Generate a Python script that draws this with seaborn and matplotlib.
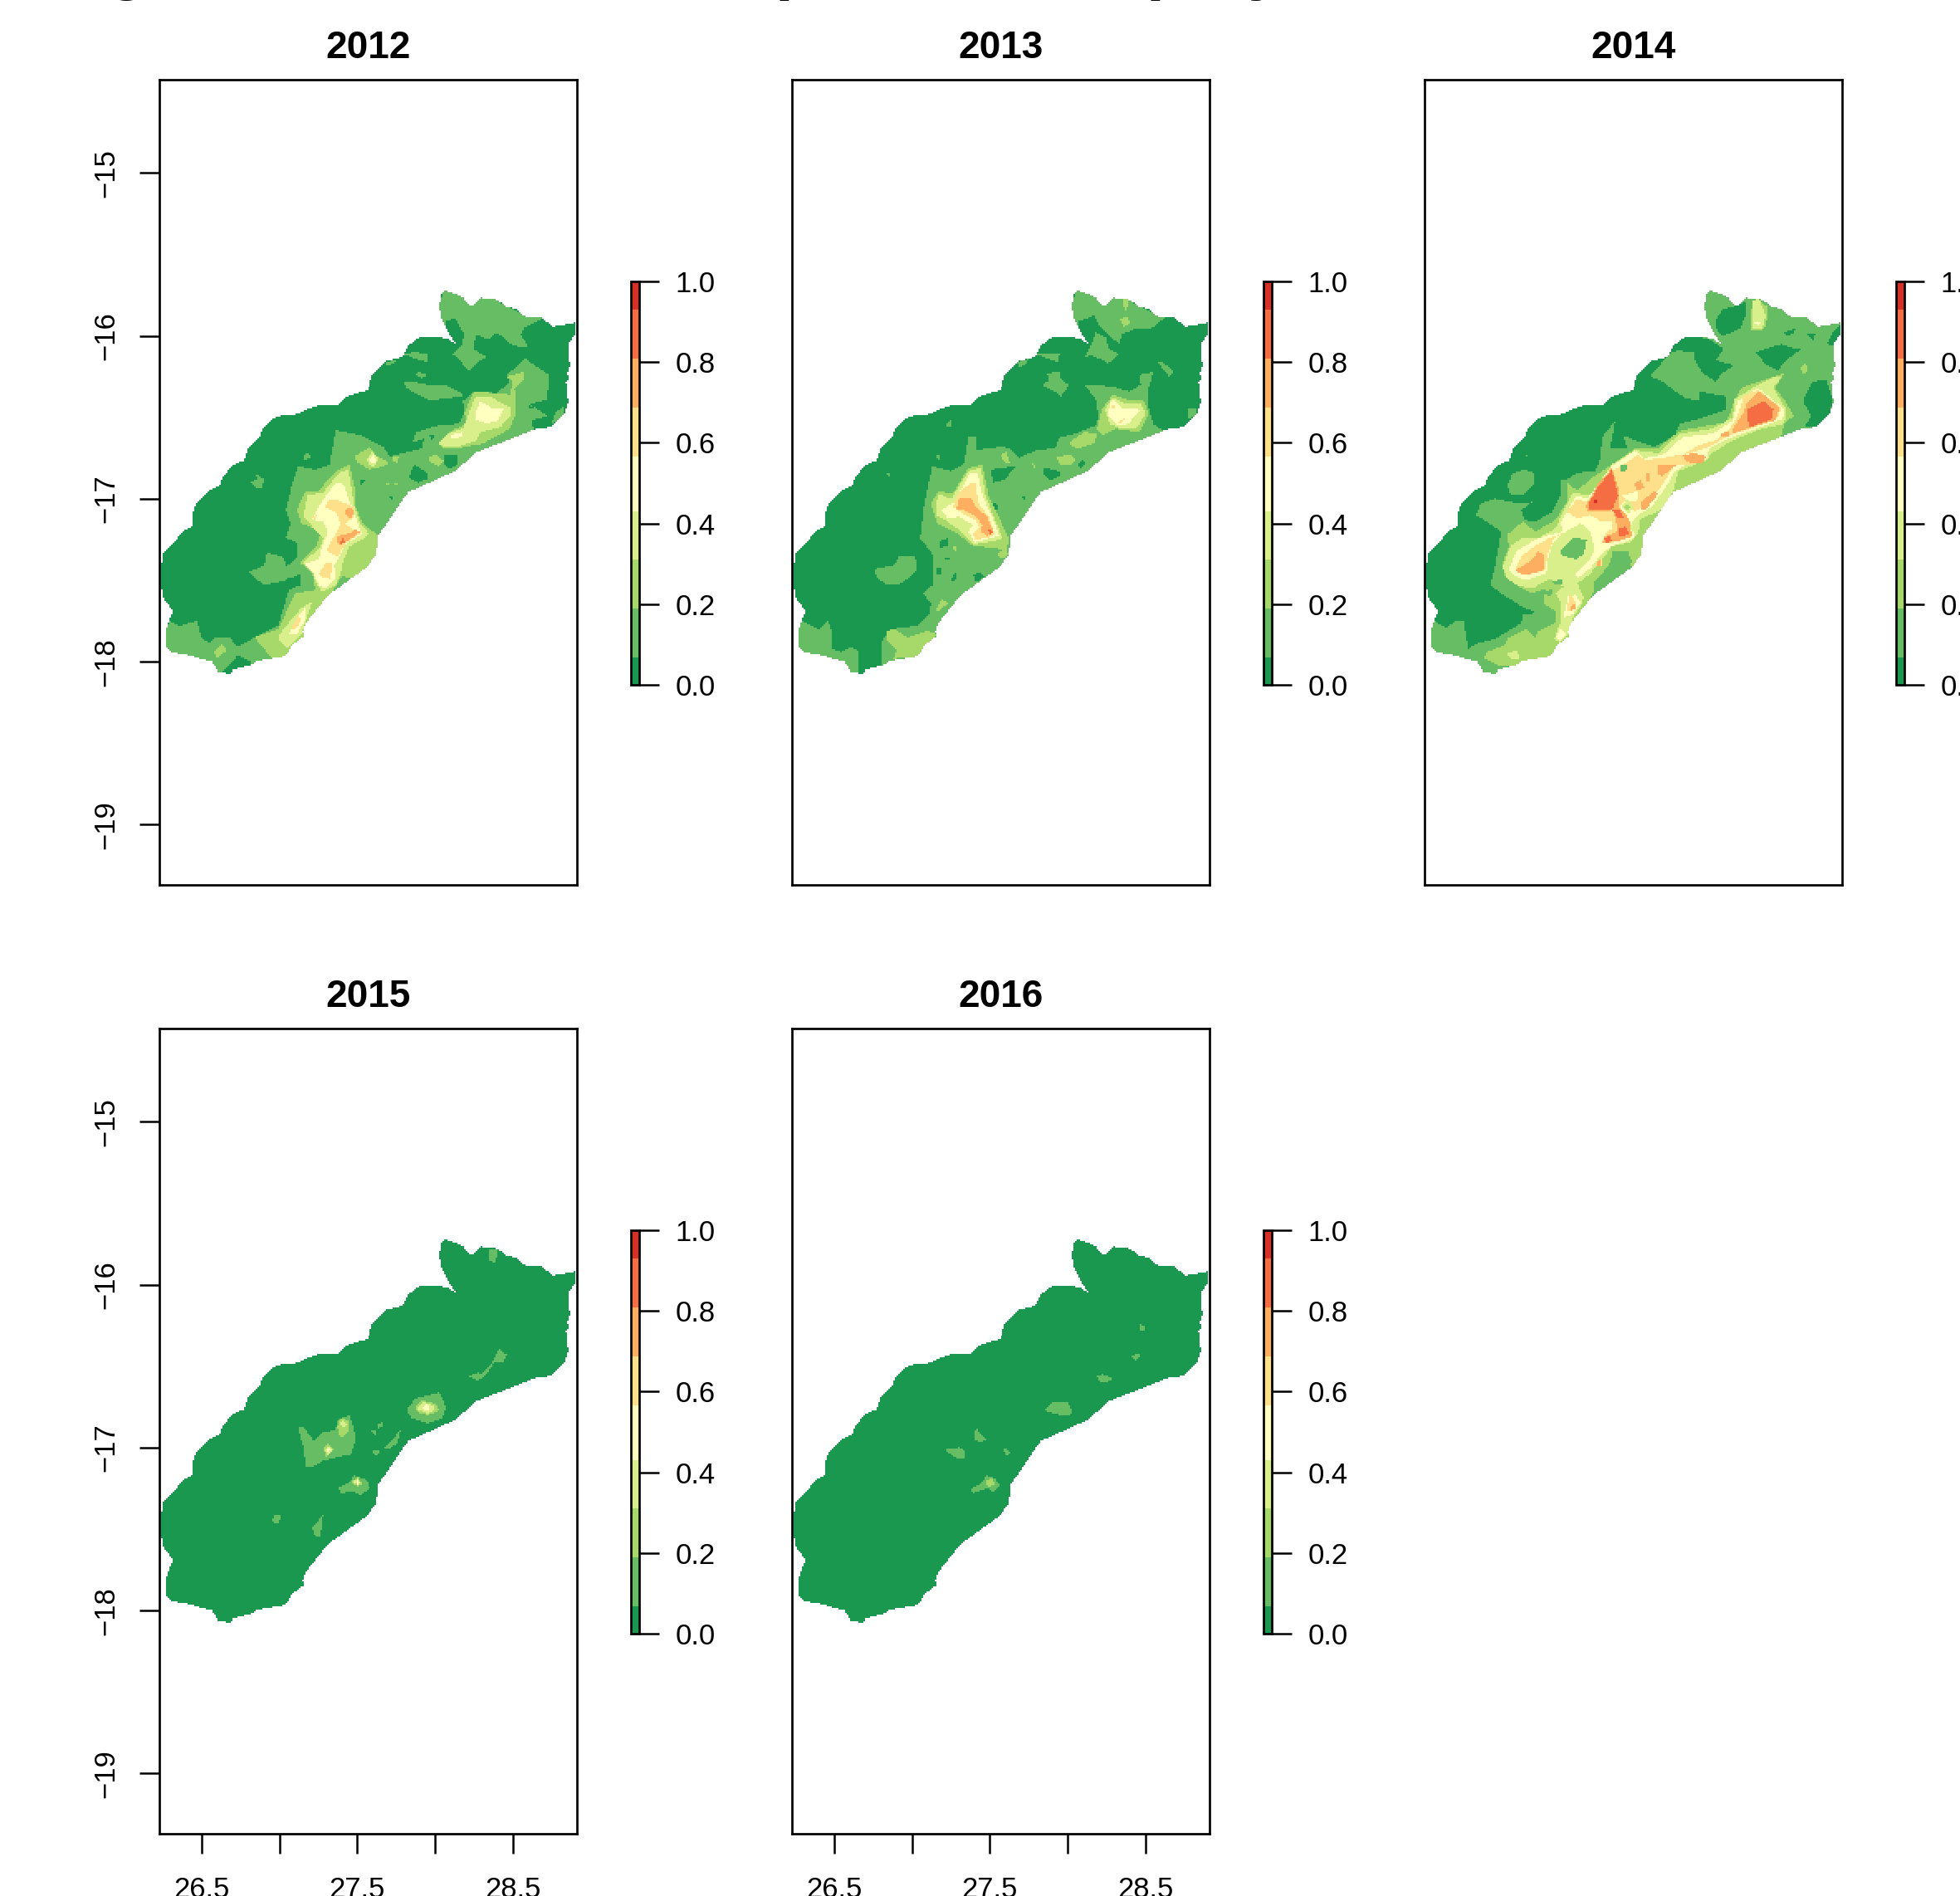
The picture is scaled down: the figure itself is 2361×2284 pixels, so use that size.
import numpy as np
import matplotlib
matplotlib.use('Agg')
import matplotlib.pyplot as plt
from matplotlib.colors import ListedColormap, BoundaryNorm
from matplotlib.path import Path
import seaborn as sns

# colour classes of the surface
breaks = [0, 0.0675, 0.19, 0.31, 0.43, 0.565, 0.687, 0.809, 0.93, 1.0]
class_mid = [0.03, 0.13, 0.25, 0.37, 0.5, 0.63, 0.75, 0.87, 0.96]
class_colors = ['#1A9850', '#66BD63', '#A6D96A', '#D9EF8B', '#FFFFBF', '#FEE08B', '#FDAE61', '#F46D43', '#D73027']
cbar_ticks = [0.0, 0.2, 0.4, 0.6, 0.8, 1.0]

lon_lim = (26.23, 28.91)
lat_lim = (-19.37, -14.427)
lon_ticks = [26.5, 27.0, 27.5, 28.0, 28.5]
lon_labels = ['26.5', '', '27.5', '', '28.5']
lat_ticks = [-15, -16, -17, -18, -19]
lat_labels = ['\u221215', '\u221216', '\u221217', '\u221218', '\u221219']
years = [2012, 2013, 2014, 2015, 2016]

# boundary of the study area (lon, lat)
outline = [
    (26.243, -17.427), (26.250, -17.342), (26.276, -17.308), (26.331, -17.257), (26.386, -17.197), (26.438, -17.172),
    (26.441, -17.096), (26.463, -17.036), (26.551, -16.951), (26.616, -16.917), (26.634, -16.866), (26.698, -16.798),
    (26.772, -16.764), (26.799, -16.688), (26.873, -16.620), (26.891, -16.569), (26.955, -16.510), (27.010, -16.488),
    (27.120, -16.479), (27.184, -16.445), (27.249, -16.428), (27.373, -16.425), (27.432, -16.371), (27.570, -16.331),
    (27.597, -16.238), (27.680, -16.157), (27.794, -16.129), (27.827, -16.060), (27.900, -16.009), (28.019, -16.004),
    (28.093, -16.023), (28.144, -16.060), (28.084, -15.975), (28.038, -15.882), (28.029, -15.814), (28.047, -15.729),
    (28.074, -15.724), (28.175, -15.759), (28.221, -15.814), (28.249, -15.814), (28.291, -15.766), (28.405, -15.780),
    (28.460, -15.822), (28.515, -15.831), (28.570, -15.878), (28.689, -15.890), (28.753, -15.943), (28.900, -15.919),
    (28.900, -15.983), (28.854, -16.051), (28.864, -16.187), (28.845, -16.238), (28.864, -16.252), (28.840, -16.281),
    (28.854, -16.408), (28.827, -16.484), (28.735, -16.561), (28.652, -16.569), (28.267, -16.714), (28.130, -16.829),
    (27.827, -16.960), (27.634, -17.231), (27.625, -17.342), (27.561, -17.418), (27.340, -17.571), (27.285, -17.622),
    (27.166, -17.766), (27.148, -17.817), (27.157, -17.843), (27.084, -17.894), (27.038, -17.965), (26.854, -17.995),
    (26.817, -18.021), (26.698, -18.046), (26.689, -18.077), (26.606, -18.063), (26.570, -18.000), (26.423, -17.961),
    (26.304, -17.941), (26.272, -17.902), (26.272, -17.800), (26.318, -17.686), (26.258, -17.613), (26.243, -17.545),
]

# each layer: (colour class, polygon in lon/lat), later layers paint over earlier ones
layers_2012 = [
    (1, [(26.30,-17.75),(26.36,-17.78),(26.47,-17.75),(26.50,-17.85),(26.55,-17.89),(26.59,-17.85),(26.68,-17.85),(26.73,-17.91),(26.88,-17.83),(26.99,-17.78),(27.06,-17.56),(27.13,-17.53),(27.13,-17.46),(27.04,-17.50),(26.90,-17.53),(26.80,-17.45),(26.90,-17.41),(26.92,-17.33),(27.03,-17.36),(27.04,-17.42),(27.11,-17.36),(27.11,-17.27),(27.04,-17.24),(27.07,-17.15),(27.04,-17.07),(27.08,-16.91),(27.12,-16.80),(27.23,-16.82),(27.32,-16.79),(27.36,-16.58),(27.52,-16.61),(27.67,-16.68),(27.71,-16.74),(27.84,-16.71),(27.88,-16.59),(28.02,-16.55),(28.15,-16.54),(28.19,-16.47),(28.18,-16.40),(28.25,-16.34),(28.40,-16.35),(28.48,-16.28),(28.46,-16.24),(28.58,-16.14),(28.73,-16.24),(28.72,-16.39),(28.61,-16.42),(28.72,-16.49),(28.62,-16.52),(28.63,-16.57),(28.72,-16.62),(28.13,-16.93),(27.63,-17.44),(27.21,-17.95),(27.03,-18.09),(26.29,-18.09),(26.22,-17.87)]),
    (1, [(28.00,-15.88),(28.06,-15.71),(28.31,-15.74),(28.59,-15.88),(28.70,-15.89),(28.57,-15.95),(28.55,-15.99),(28.60,-16.07),(28.50,-16.06),(28.40,-15.98),(28.34,-16.02),(28.26,-15.99),(28.18,-15.98),(28.13,-15.89),(28.07,-15.91),(28.06,-15.96)]),
    (1, [(28.11,-16.11),(28.17,-16.06),(28.19,-15.99),(28.26,-15.99),(28.25,-16.08),(28.33,-16.13),(28.26,-16.17),(28.22,-16.22),(28.15,-16.14)]),
    (1, [(27.80,-16.11),(27.87,-16.10),(27.95,-16.11),(27.95,-16.16),(27.87,-16.14)]),
    (1, [(27.68,-16.16),(27.75,-16.15),(27.74,-16.17),(27.69,-16.18)]),
    (1, [(27.80,-16.28),(27.85,-16.28),(27.96,-16.30),(28.06,-16.30),(28.17,-16.35),(28.18,-16.37),(28.02,-16.39),(27.95,-16.39),(27.85,-16.34),(27.82,-16.32)]),
    (1, [(27.90,-16.22),(27.95,-16.24),(27.92,-16.26),(27.87,-16.24)]),
    (1, [(27.15,-16.73),(27.19,-16.72),(27.20,-16.75),(27.16,-16.76)]),
    (1, [(26.81,-16.90),(26.86,-16.88),(26.84,-16.84),(26.90,-16.88),(26.89,-16.93),(26.86,-16.94)]),
    (1, [(28.77,-16.47),(28.83,-16.43),(28.83,-16.49),(28.75,-16.54)]),
    (0, [(28.06,-16.73),(28.14,-16.73),(28.14,-16.79),(28.09,-16.82),(28.06,-16.79)]),
    (0, [(27.83,-16.87),(27.87,-16.79),(27.95,-16.84),(27.95,-16.88),(27.89,-16.90)]),
    (0, [(26.62,-18.07),(26.68,-18.02),(26.73,-17.96),(26.82,-18.00),(26.82,-18.03),(26.70,-18.09)]),
    (0, [(27.05,-17.49),(27.13,-17.48),(27.13,-17.53),(27.06,-17.54)]),
    (0, [(27.84,-16.66),(27.93,-16.63),(27.92,-16.69),(27.84,-16.71)]),
    (0, [(27.96,-16.61),(28.00,-16.61),(27.98,-16.64)]),
    (0, [(28.59,-16.42),(28.63,-16.44),(28.61,-16.45)]),
    (0, [(27.51,-16.88),(27.56,-16.89),(27.52,-16.91)]),
    (0, [(27.71,-16.98),(27.73,-16.99),(27.72,-17.02)]),
    (2, [(27.11,-17.07),(27.16,-16.96),(27.25,-16.95),(27.36,-16.83),(27.45,-16.79),(27.48,-16.93),(27.48,-17.03),(27.53,-17.15),(27.63,-17.22),(27.63,-17.36),(27.56,-17.43),(27.45,-17.49),(27.40,-17.47),(27.36,-17.54),(27.30,-17.61),(27.17,-17.85),(27.05,-17.98),(26.95,-17.98),(26.84,-17.85),(26.99,-17.80),(27.06,-17.66),(27.10,-17.58),(27.23,-17.56),(27.21,-17.46),(27.13,-17.39),(27.23,-17.30),(27.27,-17.20),(27.14,-17.15)]),
    (2, [(27.48,-16.74),(27.58,-16.68),(27.63,-16.74),(27.71,-16.78),(27.67,-16.80),(27.58,-16.82),(27.50,-16.78)]),
    (2, [(28.02,-16.66),(28.11,-16.58),(28.20,-16.54),(28.19,-16.47),(28.25,-16.34),(28.37,-16.35),(28.48,-16.36),(28.50,-16.28),(28.46,-16.25),(28.57,-16.22),(28.57,-16.27),(28.51,-16.32),(28.52,-16.47),(28.48,-16.57),(28.31,-16.66),(28.15,-16.69),(28.06,-16.69)]),
    (2, [(27.96,-16.74),(28.01,-16.73),(28.06,-16.77),(28.02,-16.80),(27.96,-16.77)]),
    (2, [(26.58,-17.94),(26.63,-17.89),(26.66,-17.93),(26.60,-17.98)]),
    (2, [(27.73,-16.74),(27.77,-16.74),(27.76,-16.78),(27.73,-16.77)]),
    (2, [(27.67,-16.90),(27.71,-16.90),(27.70,-16.92)]),
    (2, [(27.73,-16.90),(27.77,-16.90),(27.75,-16.92)]),
    (3, [(27.16,-17.07),(27.18,-16.98),(27.28,-16.96),(27.38,-16.84),(27.44,-16.82),(27.48,-17.05),(27.52,-17.16),(27.57,-17.21),(27.53,-17.25),(27.45,-17.29),(27.41,-17.37),(27.39,-17.46),(27.36,-17.53),(27.27,-17.57),(27.22,-17.49),(27.21,-17.44),(27.15,-17.39),(27.26,-17.30),(27.28,-17.24),(27.23,-17.19),(27.16,-17.12)]),
    (3, [(27.00,-17.83),(27.06,-17.76),(27.14,-17.67),(27.21,-17.63),(27.14,-17.83),(27.05,-17.92),(27.00,-17.87)]),
    (3, [(28.02,-16.66),(28.10,-16.59),(28.18,-16.57),(28.22,-16.47),(28.26,-16.37),(28.35,-16.37),(28.48,-16.44),(28.48,-16.49),(28.42,-16.56),(28.29,-16.59),(28.27,-16.64),(28.15,-16.68),(28.06,-16.68)]),
    (3, [(27.56,-16.76),(27.60,-16.71),(27.64,-16.76),(27.61,-16.80),(27.57,-16.79)]),
    (4, [(27.21,-17.13),(27.26,-17.03),(27.36,-16.90),(27.41,-16.91),(27.45,-17.02),(27.51,-17.17),(27.53,-17.22),(27.43,-17.27),(27.38,-17.36),(27.35,-17.41),(27.36,-17.49),(27.30,-17.55),(27.25,-17.53),(27.22,-17.46),(27.16,-17.40),(27.25,-17.37),(27.28,-17.27),(27.31,-17.20),(27.28,-17.14)]),
    (4, [(27.06,-17.83),(27.10,-17.75),(27.17,-17.66),(27.16,-17.75),(27.11,-17.83)]),
    (4, [(28.26,-16.47),(28.29,-16.40),(28.36,-16.44),(28.44,-16.45),(28.40,-16.52),(28.33,-16.54),(28.26,-16.51)]),
    (4, [(28.10,-16.61),(28.18,-16.59),(28.17,-16.62),(28.11,-16.63)]),
    (4, [(27.58,-16.76),(27.61,-16.73),(27.63,-16.77),(27.60,-16.79)]),
    (5, [(27.29,-17.05),(27.31,-17.01),(27.38,-17.01),(27.47,-17.05),(27.48,-17.11),(27.42,-17.15),(27.47,-17.19),(27.52,-17.21),(27.43,-17.27),(27.39,-17.32),(27.38,-17.36),(27.30,-17.32),(27.33,-17.26),(27.37,-17.20),(27.39,-17.15),(27.36,-17.08)]),
    (5, [(27.25,-17.46),(27.30,-17.39),(27.34,-17.39),(27.33,-17.46),(27.32,-17.49),(27.27,-17.48)]),
    (5, [(27.08,-17.78),(27.12,-17.72),(27.14,-17.75),(27.09,-17.81)]),
    (5, [(27.21,-17.11),(27.24,-17.10),(27.22,-17.13)]),
    (6, [(27.42,-17.07),(27.45,-17.05),(27.48,-17.08),(27.46,-17.12),(27.43,-17.11)]),
    (6, [(27.37,-17.23),(27.45,-17.21),(27.48,-17.19),(27.52,-17.20),(27.45,-17.25),(27.39,-17.28),(27.37,-17.27)]),
    (7, [(27.39,-17.26),(27.41,-17.24),(27.42,-17.27),(27.39,-17.28)]),
]

layers_2013 = [
    (1, [(26.29,-17.75),(26.40,-17.80),(26.46,-17.75),(26.49,-17.83),(26.49,-17.92),(26.54,-17.94),(26.61,-17.91),(26.66,-17.94),(26.66,-18.02),(26.65,-18.10),(26.29,-18.09),(26.22,-17.87)]),
    (1, [(26.80,-18.03),(26.81,-17.87),(26.86,-17.80),(27.03,-17.78),(27.11,-17.71),(27.12,-17.64),(27.07,-17.58),(27.13,-17.53),(27.13,-17.34),(27.05,-17.24),(27.06,-17.20),(27.07,-17.07),(27.10,-16.93),(27.13,-16.80),(27.25,-16.83),(27.33,-16.79),(27.36,-16.62),(27.41,-16.62),(27.41,-16.70),(27.58,-16.68),(27.63,-16.69),(27.69,-16.75),(27.80,-16.70),(27.92,-16.69),(27.95,-16.62),(28.02,-16.61),(28.18,-16.55),(28.20,-16.50),(28.18,-16.39),(28.11,-16.30),(28.28,-16.31),(28.40,-16.34),(28.47,-16.30),(28.46,-16.24),(28.55,-16.22),(28.52,-16.32),(28.52,-16.44),(28.55,-16.54),(28.61,-16.58),(28.72,-16.62),(28.13,-16.93),(27.63,-17.44),(27.21,-17.95),(27.03,-18.09),(26.80,-18.09)]),
    (1, [(28.00,-15.88),(28.06,-15.71),(28.31,-15.74),(28.59,-15.88),(28.62,-15.89),(28.53,-15.96),(28.42,-15.96),(28.35,-15.99),(28.33,-16.05),(28.26,-15.99),(28.20,-15.93),(28.17,-15.87),(28.13,-15.89),(28.07,-15.91),(28.06,-15.96)]),
    (1, [(28.11,-16.13),(28.15,-16.06),(28.18,-15.98),(28.25,-16.01),(28.26,-16.08),(28.33,-16.11),(28.26,-16.17),(28.23,-16.15),(28.15,-16.12)]),
    (1, [(27.80,-16.11),(27.87,-16.11),(27.95,-16.11),(27.94,-16.16),(27.87,-16.14)]),
    (1, [(27.68,-16.16),(27.75,-16.14),(27.73,-16.18),(27.69,-16.19)]),
    (1, [(27.84,-16.29),(27.88,-16.28),(27.87,-16.23),(27.95,-16.22),(27.96,-16.27),(28.01,-16.30),(27.96,-16.37),(27.92,-16.34),(27.85,-16.31)]),
    (1, [(28.58,-16.16),(28.61,-16.16),(28.68,-16.22),(28.65,-16.25),(28.61,-16.20)]),
    (1, [(28.77,-16.45),(28.83,-16.44),(28.82,-16.49),(28.77,-16.51)]),
    (1, [(26.76,-17.43),(26.88,-17.41),(26.92,-17.35),(27.02,-17.35),(27.03,-17.44),(26.97,-17.49),(26.91,-17.53),(26.84,-17.53),(26.77,-17.48)]),
    (1, [(27.21,-16.55),(27.25,-16.51),(27.25,-16.56)]),
    (1, [(26.83,-16.85),(26.86,-16.84),(26.86,-16.87)]),
    (1, [(27.15,-16.73),(27.18,-16.73),(27.17,-16.76)]),
    (0, [(27.85,-16.81),(27.95,-16.83),(27.95,-16.86),(27.89,-16.89),(27.85,-16.85)]),
    (0, [(28.07,-16.79),(28.10,-16.76),(28.12,-16.79),(28.08,-16.81)]),
    (0, [(27.50,-16.82),(27.67,-16.80),(27.60,-16.88),(27.52,-16.90)]),
    (0, [(27.50,-17.03),(27.54,-17.02),(27.55,-17.07),(27.51,-17.08)]),
    (0, [(27.71,-16.98),(27.73,-16.99),(27.72,-17.02)]),
    (0, [(27.17,-17.26),(27.23,-17.24),(27.23,-17.29),(27.18,-17.30)]),
    (0, [(27.15,-17.42),(27.19,-17.42),(27.18,-17.47),(27.15,-17.46)]),
    (0, [(27.25,-17.49),(27.28,-17.45),(27.28,-17.49),(27.26,-17.52)]),
    (0, [(27.39,-17.47),(27.43,-17.45),(27.46,-17.48),(27.41,-17.51)]),
    (0, [(27.20,-17.36),(27.25,-17.36),(27.23,-17.38)]),
    (0, [(28.54,-16.49),(28.58,-16.46),(28.60,-16.51),(28.56,-16.52)]),
    (2, [(28.01,-16.66),(28.06,-16.62),(28.11,-16.59),(28.19,-16.60),(28.17,-16.66),(28.07,-16.69),(28.03,-16.68)]),
    (2, [(27.93,-16.74),(28.02,-16.73),(28.05,-16.76),(28.02,-16.79),(27.95,-16.79)]),
    (2, [(27.57,-16.73),(27.61,-16.71),(27.63,-16.78),(27.60,-16.78)]),
    (2, [(28.34,-15.90),(28.38,-15.88),(28.40,-15.92),(28.36,-15.95)]),
    (2, [(28.35,-15.78),(28.39,-15.77),(28.38,-15.86),(28.36,-15.82)]),
    (2, [(27.77,-16.78),(27.79,-16.79),(27.79,-16.82)]),
    (2, [(26.84,-17.81),(26.89,-17.80),(26.97,-17.85),(27.10,-17.81),(27.16,-17.83),(27.05,-17.97),(26.88,-17.98),(26.90,-17.93),(26.84,-17.87)]),
    (2, [(27.15,-17.68),(27.19,-17.62),(27.23,-17.64),(27.17,-17.69)]),
    (2, [(27.25,-17.30),(27.28,-17.29),(27.28,-17.32)]),
    (2, [(27.54,-17.34),(27.61,-17.30),(27.62,-17.34),(27.58,-17.37)]),
    (2, [(27.12,-17.03),(27.17,-16.95),(27.26,-16.97),(27.36,-16.81),(27.45,-16.79),(27.49,-16.98),(27.56,-17.12),(27.63,-17.25),(27.60,-17.32),(27.52,-17.30),(27.39,-17.29),(27.30,-17.22),(27.16,-17.15)]),
    (2, [(28.19,-16.57),(28.22,-16.45),(28.29,-16.36),(28.38,-16.39),(28.49,-16.40),(28.52,-16.48),(28.46,-16.59),(28.31,-16.57),(28.22,-16.61)]),
    (3, [(27.15,-17.05),(27.17,-16.97),(27.25,-17.00),(27.36,-16.83),(27.44,-16.81),(27.47,-16.98),(27.53,-17.13),(27.58,-17.24),(27.52,-17.26),(27.39,-17.28),(27.30,-17.19),(27.21,-17.13),(27.15,-17.10)]),
    (3, [(28.24,-16.45),(28.29,-16.38),(28.36,-16.41),(28.47,-16.41),(28.50,-16.48),(28.44,-16.57),(28.35,-16.57),(28.27,-16.54)]),
    (4, [(27.19,-17.07),(27.23,-17.04),(27.27,-17.02),(27.37,-16.84),(27.42,-16.84),(27.45,-16.98),(27.52,-17.13),(27.56,-17.23),(27.50,-17.24),(27.40,-17.27),(27.36,-17.20),(27.39,-17.16),(27.30,-17.11),(27.23,-17.12)]),
    (4, [(28.27,-16.42),(28.29,-16.39),(28.35,-16.44),(28.45,-16.44),(28.46,-16.46),(28.39,-16.54),(28.32,-16.55),(28.26,-16.49)]),
    (5, [(27.26,-17.05),(27.30,-16.96),(27.38,-16.90),(27.41,-16.91),(27.42,-17.02),(27.49,-17.11),(27.53,-17.22),(27.48,-17.24),(27.40,-17.25),(27.39,-17.21),(27.43,-17.18),(27.41,-17.13),(27.34,-17.10)]),
    (5, [(28.28,-16.43),(28.30,-16.42),(28.31,-16.45),(28.29,-16.45)]),
    (5, [(28.32,-16.53),(28.38,-16.50),(28.37,-16.51),(28.33,-16.54)]),
    (6, [(27.28,-17.07),(27.30,-17.00),(27.38,-17.00),(27.41,-17.05),(27.48,-17.11),(27.52,-17.20),(27.48,-17.23),(27.44,-17.20),(27.45,-17.16),(27.40,-17.10),(27.33,-17.07)]),
    (7, [(27.48,-17.18),(27.50,-17.19),(27.52,-17.21),(27.50,-17.22)]),
]

layers_2014 = [
    (1, [(26.29,-17.75),(26.37,-17.79),(26.43,-17.75),(26.48,-17.75),(26.51,-17.92),(26.56,-17.89),(26.68,-17.86),(26.77,-17.81),(26.85,-17.76),(26.86,-17.71),(26.95,-17.70),(26.85,-17.66),(26.72,-17.58),(26.65,-17.53),(26.68,-17.42),(26.71,-17.27),(26.72,-17.20),(26.63,-17.14),(26.56,-17.10),(26.59,-17.03),(26.68,-17.00),(26.84,-17.03),(26.92,-17.02),(26.85,-17.07),(26.87,-17.13),(26.94,-17.14),(27.05,-17.08),(27.10,-16.98),(27.10,-16.88),(27.14,-16.88),(27.21,-16.84),(27.32,-16.83),(27.35,-16.78),(27.37,-16.62),(27.45,-16.52),(27.42,-16.69),(27.53,-16.69),(27.50,-16.61),(27.58,-16.64),(27.71,-16.68),(27.84,-16.61),(27.87,-16.54),(27.99,-16.51),(28.17,-16.45),(28.16,-16.37),(27.99,-16.34),(28.00,-16.40),(27.90,-16.38),(27.76,-16.28),(27.68,-16.25),(27.75,-16.17),(27.80,-16.11),(27.80,-15.98),(28.04,-15.69),(28.92,-15.79),(28.96,-16.59),(28.17,-16.93),(27.67,-17.44),(27.25,-17.95),(27.07,-18.12),(26.22,-18.12),(26.22,-17.87)]),
    (1, [(26.76,-16.92),(26.79,-16.85),(26.86,-16.82),(26.93,-16.84),(26.93,-16.91),(26.86,-16.98),(26.78,-16.97)]),
    (1, [(26.87,-16.73),(26.89,-16.73),(26.89,-16.75)]),
    (0, [(28.10,-15.91),(28.14,-15.84),(28.21,-15.82),(28.29,-15.79),(28.29,-15.88),(28.26,-15.95),(28.20,-15.98),(28.14,-16.00),(28.10,-15.95)]),
    (0, [(27.80,-16.11),(27.85,-16.02),(27.96,-16.00),(28.06,-16.02),(28.15,-16.08),(28.10,-16.15),(28.22,-16.18),(28.14,-16.23),(28.10,-16.28),(28.02,-16.23),(27.97,-16.16),(27.96,-16.10),(27.86,-16.09)]),
    (0, [(28.36,-16.10),(28.52,-16.05),(28.61,-16.08),(28.65,-16.08),(28.55,-16.15),(28.50,-16.21),(28.43,-16.18),(28.36,-16.11)]),
    (0, [(28.67,-16.37),(28.72,-16.28),(28.81,-16.27),(28.85,-16.39),(28.83,-16.49),(28.74,-16.56),(28.67,-16.56),(28.71,-16.49),(28.67,-16.42)]),
    (0, [(28.81,-16.05),(28.85,-15.98),(28.90,-15.93),(28.91,-16.01),(28.86,-16.06)]),
    (0, [(28.54,-15.98),(28.62,-15.95),(28.59,-15.99),(28.55,-16.00)]),
    (0, [(28.69,-15.99),(28.74,-15.99),(28.72,-16.03)]),
    (2, [(26.61,-17.98),(26.63,-17.94),(26.74,-17.90),(26.76,-17.86),(26.88,-17.80),(26.94,-17.85),(26.96,-17.81),(27.07,-17.76),(27.07,-17.69),(26.99,-17.64),(27.01,-17.55),(26.92,-17.58),(26.82,-17.53),(26.74,-17.47),(26.73,-17.40),(26.77,-17.29),(26.76,-17.22),(26.86,-17.14),(26.94,-17.20),(27.07,-17.13),(27.14,-17.02),(27.14,-16.90),(27.21,-16.95),(27.29,-16.88),(27.43,-16.79),(27.58,-16.69),(27.73,-16.69),(27.86,-16.59),(27.88,-16.58),(28.17,-16.53),(28.22,-16.40),(28.26,-16.32),(28.41,-16.27),(28.54,-16.23),(28.48,-16.32),(28.54,-16.39),(28.60,-16.49),(28.54,-16.54),(28.52,-16.62),(28.17,-16.93),(27.84,-17.10),(27.62,-17.44),(27.56,-17.42),(27.51,-17.32),(27.43,-17.36),(27.40,-17.42),(27.32,-17.51),(27.32,-17.56),(27.25,-17.68),(27.43,-17.78),(27.10,-18.03),(26.81,-18.02),(26.70,-18.02)]),
    (2, [(28.32,-15.86),(28.36,-15.77),(28.43,-15.82),(28.43,-15.89),(28.41,-15.96),(28.33,-15.97)]),
    (2, [(28.64,-16.19),(28.68,-16.17),(28.69,-16.22),(28.66,-16.23)]),
    (3, [(26.73,-17.42),(26.78,-17.29),(26.86,-17.24),(26.96,-17.24),(27.07,-17.18),(27.14,-17.03),(27.18,-16.96),(27.29,-16.98),(27.43,-16.79),(27.58,-16.70),(27.73,-16.72),(27.87,-16.60),(28.08,-16.57),(28.21,-16.50),(28.22,-16.39),(28.35,-16.31),(28.48,-16.25),(28.52,-16.25),(28.47,-16.32),(28.55,-16.45),(28.54,-16.54),(28.39,-16.57),(28.21,-16.64),(28.06,-16.73),(28.05,-16.76),(27.86,-16.83),(27.83,-16.95),(27.75,-17.07),(27.62,-17.12),(27.60,-17.22),(27.54,-17.27),(27.43,-17.29),(27.37,-17.37),(27.29,-17.46),(27.21,-17.52),(27.25,-17.61),(27.23,-17.66),(27.18,-17.73),(27.15,-17.83),(27.10,-17.88),(27.06,-17.86),(27.10,-17.76),(27.10,-17.63),(27.07,-17.58),(27.12,-17.54),(27.03,-17.49),(26.92,-17.55),(26.82,-17.53),(26.76,-17.49)]),
    (3, [(26.76,-17.95),(26.82,-17.93),(26.84,-17.98),(26.78,-17.98)]),
    (3, [(28.33,-15.79),(28.38,-15.77),(28.42,-15.88),(28.40,-15.95),(28.34,-15.96)]),
    (4, [(28.35,-15.92),(28.39,-15.91),(28.38,-15.94)]),
    (4, [(26.77,-17.43),(26.82,-17.32),(26.96,-17.24),(27.12,-17.20),(27.10,-17.15),(27.16,-17.05),(27.20,-16.98),(27.27,-17.00),(27.43,-16.80),(27.58,-16.70),(27.64,-16.75),(27.76,-16.73),(27.89,-16.62),(28.08,-16.60),(28.21,-16.52),(28.24,-16.40),(28.37,-16.32),(28.44,-16.37),(28.54,-16.45),(28.53,-16.51),(28.39,-16.56),(28.21,-16.62),(28.06,-16.69),(28.04,-16.76),(27.91,-16.79),(27.84,-16.83),(27.78,-16.93),(27.69,-17.05),(27.60,-17.10),(27.54,-17.17),(27.59,-17.23),(27.53,-17.26),(27.43,-17.29),(27.36,-17.34),(27.30,-17.42),(27.21,-17.49),(27.20,-17.46),(27.29,-17.37),(27.32,-17.31),(27.29,-17.20),(27.23,-17.15),(27.12,-17.21),(27.05,-17.27),(27.02,-17.37),(27.01,-17.46),(26.87,-17.50),(26.80,-17.47)]),
    (4, [(27.12,-17.73),(27.15,-17.60),(27.20,-17.59),(27.23,-17.64),(27.18,-17.71)]),
    (4, [(27.07,-17.85),(27.10,-17.80),(27.14,-17.83),(27.10,-17.87)]),
    (5, [(26.81,-17.44),(26.85,-17.35),(26.94,-17.29),(27.03,-17.24),(27.12,-17.21),(27.06,-17.24),(27.02,-17.34),(27.00,-17.44),(26.87,-17.47)]),
    (5, [(27.14,-17.08),(27.21,-17.00),(27.27,-17.02),(27.42,-16.82),(27.45,-16.82),(27.60,-16.73),(27.65,-16.76),(27.76,-16.75),(27.87,-16.73),(28.04,-16.74),(28.02,-16.78),(27.91,-16.79),(27.84,-16.79),(27.76,-16.91),(27.67,-17.03),(27.58,-17.08),(27.51,-17.01),(27.47,-17.07),(27.54,-17.20),(27.54,-17.24),(27.43,-17.27),(27.36,-17.27),(27.42,-17.17),(27.29,-17.10),(27.21,-17.12)]),
    (5, [(27.89,-16.73),(27.99,-16.67),(28.10,-16.64),(28.19,-16.57),(28.24,-16.49),(28.28,-16.37),(28.37,-16.33),(28.52,-16.44),(28.50,-16.50),(28.35,-16.56),(28.19,-16.61),(28.06,-16.68),(27.97,-16.71)]),
    (5, [(27.14,-17.68),(27.16,-17.59),(27.20,-17.63),(27.20,-17.67),(27.16,-17.69)]),
    (5, [(27.32,-17.40),(27.36,-17.36),(27.37,-17.41),(27.33,-17.41)]),
    (4, [(27.50,-16.98),(27.60,-16.95),(27.60,-17.01),(27.54,-17.02)]),
    (3, [(27.49,-17.05),(27.53,-17.00),(27.57,-17.05),(27.54,-17.09)]),
    (2, [(27.51,-17.05),(27.53,-17.03),(27.55,-17.05),(27.53,-17.07)]),
    (4, [(27.32,-17.14),(27.43,-17.14),(27.43,-17.19),(27.32,-17.18)]),
    (6, [(26.81,-17.44),(26.91,-17.38),(26.96,-17.32),(27.00,-17.35),(26.99,-17.44),(26.87,-17.47)]),
    (6, [(28.21,-16.57),(28.28,-16.47),(28.30,-16.41),(28.38,-16.34),(28.51,-16.44),(28.48,-16.52),(28.33,-16.56),(28.21,-16.60)]),
    (6, [(27.89,-16.73),(27.97,-16.72),(28.04,-16.74),(28.02,-16.78),(27.94,-16.78),(27.90,-16.76)]),
    (6, [(27.26,-17.05),(27.34,-16.91),(27.43,-16.81),(27.47,-16.93),(27.47,-17.05),(27.54,-17.12),(27.56,-17.23),(27.47,-17.26),(27.37,-17.27),(27.38,-17.23),(27.47,-17.20),(27.44,-17.07),(27.36,-17.08),(27.28,-17.08)]),
    (6, [(27.58,-16.91),(27.62,-16.88),(27.64,-16.93),(27.60,-16.95)]),
    (6, [(27.62,-17.02),(27.71,-16.95),(27.73,-16.97),(27.65,-17.07),(27.62,-17.07)]),
    (6, [(27.73,-16.79),(27.85,-16.79),(27.76,-16.86),(27.73,-16.85)]),
    (6, [(27.65,-16.84),(27.68,-16.85),(27.67,-16.90),(27.65,-16.89)]),
    (6, [(27.75,-16.85),(27.76,-16.86),(27.75,-16.88)]),
    (6, [(28.13,-16.60),(28.19,-16.58),(28.18,-16.62),(28.14,-16.62)]),
    (6, [(27.33,-17.39),(27.36,-17.37),(27.36,-17.41),(27.34,-17.41)]),
    (6, [(27.16,-17.67),(27.19,-17.64),(27.20,-17.67),(27.17,-17.69)]),
    (7, [(28.30,-16.44),(28.33,-16.44),(28.41,-16.40),(28.47,-16.45),(28.46,-16.51),(28.32,-16.56),(28.30,-16.50)]),
    (7, [(27.28,-17.03),(27.34,-16.93),(27.43,-16.82),(27.47,-16.98),(27.43,-17.07),(27.32,-17.07),(27.29,-17.07)]),
    (7, [(27.47,-17.18),(27.52,-17.17),(27.54,-17.22),(27.48,-17.23)]),
    (7, [(27.38,-17.24),(27.42,-17.23),(27.43,-17.26),(27.39,-17.27)]),
    (7, [(27.43,-17.07),(27.48,-17.07),(27.51,-17.12),(27.47,-17.12)]),
    (8, [(27.32,-17.01),(27.34,-17.00),(27.34,-17.03),(27.32,-17.03)]),
    (1, [(27.10,-17.32),(27.18,-17.24),(27.27,-17.25),(27.25,-17.34),(27.20,-17.37),(27.11,-17.35)]),
    (1, [(27.05,-17.51),(27.12,-17.49),(27.11,-17.53),(27.06,-17.53)]),
    (1, [(27.00,-17.57),(27.05,-17.55),(27.04,-17.60),(27.01,-17.59)]),
    (1, [(27.49,-16.79),(27.53,-16.79),(27.52,-16.83),(27.49,-16.83)]),
    (1, [(27.43,-17.32),(27.53,-17.32),(27.56,-17.39),(27.50,-17.43),(27.43,-17.37)]),
]

layers_2015 = [
    (1, [(27.12,-16.88),(27.15,-16.87),(27.22,-16.96),(27.27,-16.91),(27.36,-16.89),(27.37,-16.83),(27.45,-16.80),(27.49,-16.94),(27.46,-17.04),(27.36,-17.06),(27.28,-17.08),(27.21,-17.12),(27.17,-17.12),(27.15,-16.99)]),
    (1, [(27.82,-16.77),(27.87,-16.70),(28.03,-16.66),(28.07,-16.75),(28.05,-16.82),(27.95,-16.85),(27.85,-16.82)]),
    (1, [(27.38,-17.24),(27.44,-17.22),(27.48,-17.17),(27.56,-17.20),(27.58,-17.25),(27.52,-17.29),(27.47,-17.27),(27.39,-17.28)]),
    (1, [(27.68,-17.00),(27.73,-16.95),(27.78,-16.89),(27.76,-16.97),(27.71,-17.01)]),
    (1, [(28.22,-16.56),(28.28,-16.54),(28.29,-16.55),(28.36,-16.49),(28.41,-16.39),(28.46,-16.43),(28.44,-16.47),(28.38,-16.48),(28.32,-16.56),(28.27,-16.59)]),
    (1, [(28.35,-15.78),(28.40,-15.78),(28.39,-15.87),(28.35,-15.85)]),
    (1, [(26.95,-17.45),(26.97,-17.41),(27.01,-17.42),(26.99,-17.47)]),
    (1, [(27.21,-17.49),(27.28,-17.41),(27.26,-17.55),(27.23,-17.55)]),
    (1, [(27.63,-16.86),(27.67,-16.84),(27.67,-16.87),(27.64,-16.88)]),
    (1, [(27.58,-16.89),(27.62,-16.89),(27.62,-16.92),(27.60,-16.91)]),
    (1, [(27.60,-17.01),(27.65,-17.02),(27.63,-17.05),(27.61,-17.04)]),
    (2, [(27.37,-16.87),(27.39,-16.82),(27.44,-16.83),(27.44,-16.90),(27.40,-16.94),(27.38,-16.92)]),
    (2, [(27.28,-17.01),(27.31,-16.97),(27.35,-17.01),(27.30,-17.06)]),
    (2, [(27.87,-16.75),(27.92,-16.71),(28.00,-16.73),(28.03,-16.77),(27.96,-16.80),(27.90,-16.79)]),
    (2, [(27.46,-17.21),(27.50,-17.18),(27.53,-17.22),(27.50,-17.24)]),
    (3, [(27.39,-16.85),(27.41,-16.83),(27.43,-16.86),(27.40,-16.88)]),
    (3, [(27.29,-17.01),(27.31,-16.99),(27.34,-17.01),(27.31,-17.05)]),
    (3, [(27.88,-16.76),(27.93,-16.72),(27.99,-16.74),(28.00,-16.77),(27.95,-16.79)]),
    (3, [(27.47,-17.21),(27.50,-17.19),(27.52,-17.22),(27.50,-17.23)]),
    (4, [(27.92,-16.75),(27.95,-16.73),(27.97,-16.76),(27.94,-16.78)]),
    (4, [(27.30,-17.01),(27.31,-17.00),(27.33,-17.01),(27.31,-17.03)]),
    (4, [(27.49,-17.21),(27.50,-17.20),(27.51,-17.21),(27.50,-17.23)]),
]

layers_2016 = [
    (1, [(28.46,-16.24),(28.50,-16.26),(28.50,-16.28),(28.47,-16.29)]),
    (1, [(28.41,-16.44),(28.46,-16.42),(28.46,-16.44),(28.44,-16.47)]),
    (1, [(28.19,-16.56),(28.22,-16.55),(28.28,-16.57),(28.28,-16.59),(28.21,-16.60)]),
    (1, [(27.85,-16.77),(27.90,-16.72),(28.00,-16.72),(28.03,-16.77),(28.02,-16.80),(27.95,-16.80)]),
    (1, [(27.40,-16.90),(27.41,-16.88),(27.47,-16.95),(27.44,-16.97),(27.40,-16.95)]),
    (1, [(27.21,-17.00),(27.26,-17.01),(27.30,-17.00),(27.34,-17.02),(27.33,-17.07),(27.28,-17.06),(27.23,-17.03)]),
    (1, [(27.59,-17.01),(27.61,-17.00),(27.63,-17.03),(27.61,-17.05)]),
    (1, [(27.37,-17.25),(27.43,-17.23),(27.48,-17.17),(27.53,-17.19),(27.56,-17.23),(27.52,-17.27),(27.48,-17.25),(27.39,-17.28)]),
    (2, [(27.48,-17.20),(27.51,-17.19),(27.53,-17.22),(27.50,-17.24),(27.47,-17.23)]),
]

year_layers = [layers_2012, layers_2013, layers_2014, layers_2015, layers_2016]

sns.set_theme(style='ticks', rc={
    'axes.edgecolor': 'black', 'axes.linewidth': 0.65, 'text.color': 'black',
    'xtick.color': 'black', 'ytick.color': 'black',
})
plt.rcParams['font.family'] = ['Liberation Sans', 'DejaVu Sans']

W, H = 2361, 2284
fig = plt.figure(figsize=(W / 300, H / 300), dpi=300, facecolor='white')


def box(x0, y0, x1, y1):
    # pixel box (y down) to figure fractions
    return [x0 / W, 1 - y1 / H, (x1 - x0) / W, (y1 - y0) / H]


# raster grid, about 2 px a cell
nx, ny = 252, 485
dlon = (lon_lim[1] - lon_lim[0]) / nx
dlat = (lat_lim[1] - lat_lim[0]) / ny
lon_c = lon_lim[0] + dlon * (np.arange(nx) + 0.5)
lat_c = lat_lim[1] - dlat * (np.arange(ny) + 0.5)
grid_lon, grid_lat = np.meshgrid(lon_c, lat_c)
cells = np.column_stack([grid_lon.ravel(), grid_lat.ravel()])
inside = Path(outline).contains_points(cells).reshape(grid_lon.shape)

cmap = ListedColormap(class_colors)
norm = BoundaryNorm(breaks, cmap.N)

for i, (year, layers) in enumerate(zip(years, year_layers)):
    row, col = divmod(i, 3)
    x0 = 192 + col * 762
    y0 = 96 + row * 1143
    ax = fig.add_axes(box(x0, y0, x0 + 503, y0 + 970))
    cax = fig.add_axes(box(x0 + 568, y0 + 243, x0 + 578, y0 + 729))

    z = np.full(grid_lon.shape, class_mid[0])
    for cls, poly in layers:
        hit = Path(poly).contains_points(cells).reshape(grid_lon.shape)
        z[hit] = class_mid[cls]
    z[~inside] = np.nan

    sns.heatmap(z, ax=ax, cmap=cmap, norm=norm, cbar_ax=cax, xticklabels=False, yticklabels=False,
                cbar_kws={'ticks': cbar_ticks, 'spacing': 'proportional', 'format': '%.1f'})

    for spine in ax.spines.values():
        spine.set_visible(True)
        spine.set_color('black')
        spine.set_linewidth(0.65)
    ax.set_title(str(year), fontsize=11, fontweight='bold', pad=6.2)

    # ticks in lon/lat converted to heatmap cells
    if row == 1:
        ax.set_xticks([(v - lon_lim[0]) / dlon for v in lon_ticks])
        ax.set_xticklabels(lon_labels, rotation=0)
    else:
        ax.set_xticks([])
    if col == 0:
        ax.set_yticks([(lat_lim[1] - v) / dlat for v in lat_ticks])
        ax.set_yticklabels(lat_labels, rotation=90, va='center')
    else:
        ax.set_yticks([])
    ax.tick_params(axis='x', length=5.76, width=0.6, pad=6.6, labelsize=8.3, bottom=True)
    ax.tick_params(axis='y', length=5.76, width=0.6, pad=5.6, labelsize=8.3, left=True)

    cb = ax.collections[0].colorbar
    cb.outline.set_linewidth(0.65)
    cb.outline.set_edgecolor('black')
    cb.ax.tick_params(length=5.76, width=0.6, pad=4.6, labelsize=8.3, right=True)
    cb.ax.minorticks_off()

# only the descenders of the figure heading fall inside the picture
for letter, x in [('g', 153), ('p', 958), ('p', 1405), ('y', 1524), (',', 1636)]:
    fig.text(x / W, 1 + 16 / H, letter, fontsize=19, fontweight='bold', ha='center', va='baseline')

fig.savefig('out.png', dpi=300, facecolor='white')
